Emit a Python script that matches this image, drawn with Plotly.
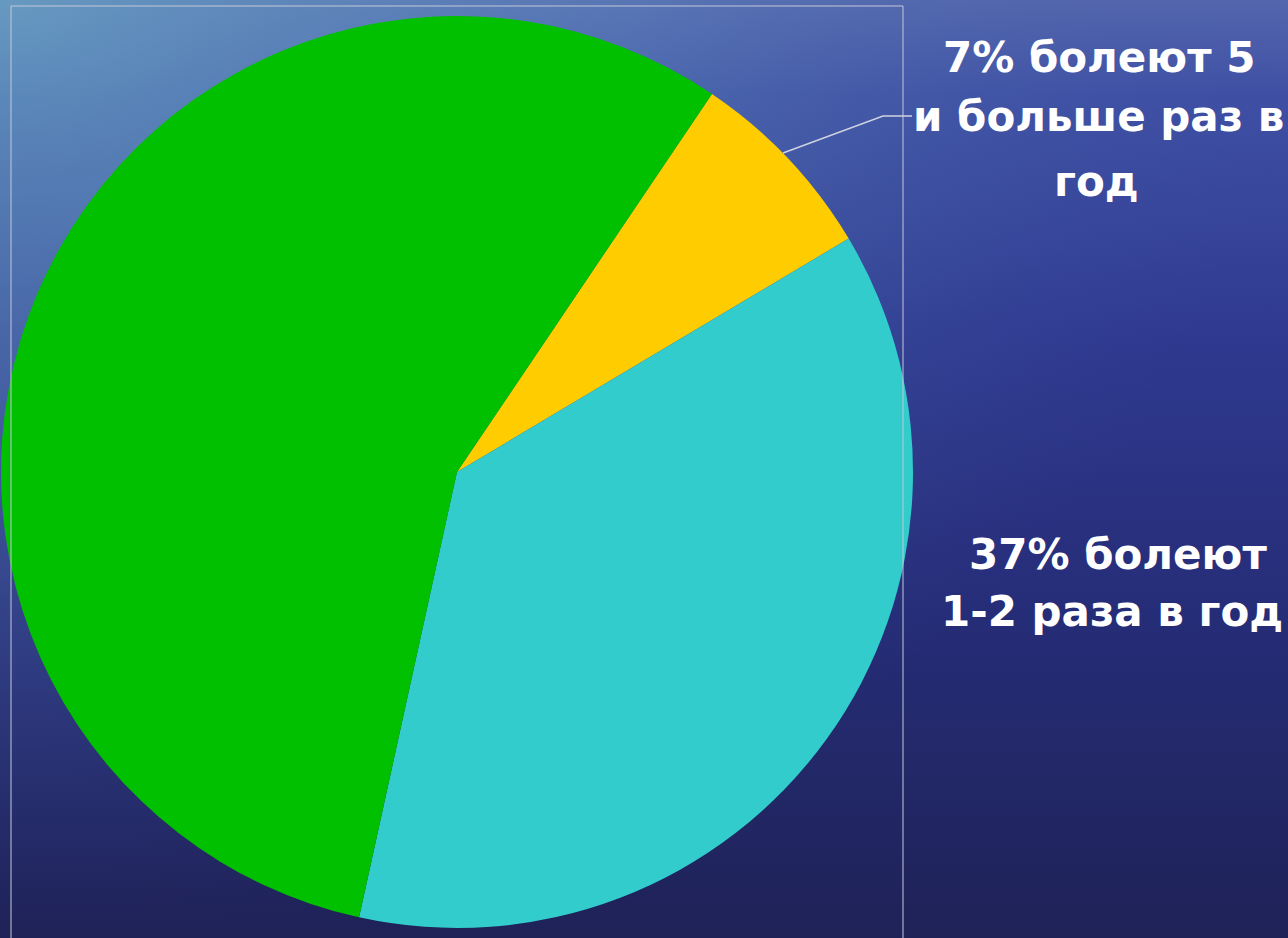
import plotly.graph_objects as go

W, H = 1288, 938

# ---- data ----
labels = ["болеют 5 и больше раз в год", "болеют 1-2 раза в год", "остальные"]
values = [7, 37, 56]
colors = ["#ffcc00", "#33cccc", "#00c000"]

label1_lines = ["7% болеют 5", "и больше раз в", "год"]
label2_lines = ["37% болеют", "1-2 раза в год"]

def px(x):
    return x / W

def py(y):
    return 1 - y / H

fig = go.Figure()

# background gradient (decorative)
fig.add_trace(go.Scatter(
    x=[0, 1, 1, 0, 0], y=[0, 0, 1, 1, 0], mode="lines", fill="toself",
    line=dict(width=0), hoverinfo="skip", showlegend=False,
    fillgradient=dict(type="vertical", colorscale=[
        [0, "#1f2257"], [0.35, "#262d78"], [0.65, "#2f3a90"], [0.9, "#3f50a4"], [1, "#5466ae"]]),
))
fig.add_trace(go.Scatter(
    x=[-1, 1, 1, -1, -1], y=[0, 0, 2, 2, 0], mode="lines", fill="toself",
    line=dict(width=0), hoverinfo="skip", showlegend=False,
    fillgradient=dict(type="radial", colorscale=[
        [0, "rgba(110,175,200,0.7)"], [0.5, "rgba(95,140,190,0.4)"], [1, "rgba(60,80,160,0)"]]),
))

fig.add_trace(go.Pie(
    labels=labels, values=values, sort=False, direction="clockwise", rotation=34,
    marker=dict(colors=colors, line=dict(width=0)),
    textinfo="none", hoverinfo="label+percent", showlegend=False,
    domain=dict(x=[px(1), px(913)], y=[py(928), py(16)]),
))

font = dict(family="DejaVu Sans", size=42, color="white", weight="bold")
annotations = []
for txt, xc, yc in zip(label1_lines, [1099, 1098, 1096], [57, 117, 181]):
    annotations.append(dict(text=txt, x=px(xc), y=py(yc), xref="paper", yref="paper",
                            xanchor="center", yanchor="middle", showarrow=False, font=font))
for txt, xc, yc in zip(label2_lines, [1118, 1112], [554, 611]):
    annotations.append(dict(text=txt, x=px(xc), y=py(yc), xref="paper", yref="paper",
                            xanchor="center", yanchor="middle", showarrow=False, font=font))

shapes = [
    dict(type="rect", xref="paper", yref="paper", x0=px(11), x1=px(903), y0=py(945), y1=py(6),
         line=dict(color="#c4c8d8", width=1), layer="above"),
    dict(type="path", xref="paper", yref="paper",
         path=f"M {px(783)} {py(153)} L {px(883)} {py(116)} L {px(912)} {py(116)}",
         line=dict(color="#d0d4e0", width=1.5), layer="above"),
]

fig.update_layout(
    width=W, height=H, margin=dict(l=0, r=0, t=0, b=0),
    paper_bgcolor="#27306e", plot_bgcolor="#27306e",
    xaxis=dict(range=[0, 1], visible=False, fixedrange=True, domain=[0, 1]),
    yaxis=dict(range=[0, 1], visible=False, fixedrange=True, domain=[0, 1]),
    annotations=annotations, shapes=shapes, showlegend=False,
)

fig.write_html("out.html", config={"displayModeBar": False})
